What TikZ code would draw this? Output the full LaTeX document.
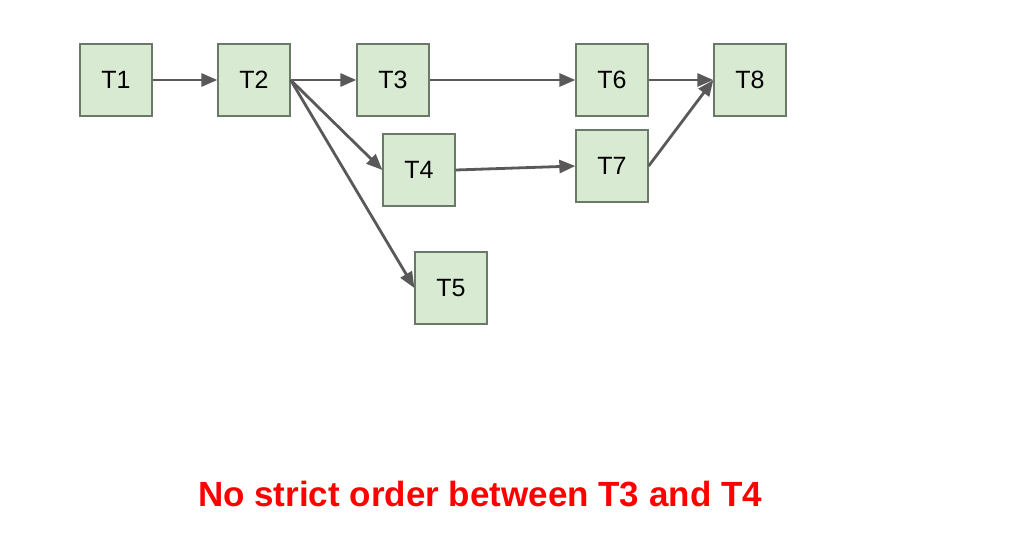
\documentclass[tikz,border=0pt]{standalone}
\usepackage{fontspec}
\setmainfont{Liberation Sans}
\usetikzlibrary{arrows.meta}
\definecolor{boxfill}{HTML}{D9EAD3}
\definecolor{boxline}{HTML}{6B7A68}
\definecolor{arrowcol}{HTML}{595959}
\begin{document}
\begin{tikzpicture}[x=1pt,y=-1pt,
  task/.style={draw=boxline,fill=boxfill,line width=1.3pt,minimum width=72pt,minimum height=72pt,inner sep=0pt,font=\fontsize{25}{29}\selectfont,text=black},
  conn/.style={draw=arrowcol,line width=2.8pt,-{Triangle[length=16pt,width=13pt]}}]
\useasboundingbox[fill=white] (0,0) rectangle (1024,544);
\node[task] (t1) at (116,80) {T1};
\node[task] (t2) at (254,80) {T2};
\node[task] (t3) at (393,80) {T3};
\node[task] (t4) at (419,170) {T4};
\node[task] (t5) at (451,288) {T5};
\node[task] (t6) at (612,80) {T6};
\node[task] (t7) at (612,166) {T7};
\node[task] (t8) at (750,80) {T8};
\draw[conn] (t1.east) -- (t2.west);
\draw[conn] (t2.east) -- (t3.west);
\draw[conn] (t2.east) -- (t4.west);
\draw[conn] (t2.east) -- (t5.west);
\draw[conn] (t3.east) -- (t6.west);
\draw[conn] (t4.east) -- (t7.west);
\draw[conn] (t6.east) -- (t8.west);
\draw[conn] (t7.east) -- (t8.west);
\node[text=red,font=\bfseries\fontsize{35}{40}\selectfont] (note) at (480,494) {No strict order between T3 and T4};
\end{tikzpicture}
\end{document}
